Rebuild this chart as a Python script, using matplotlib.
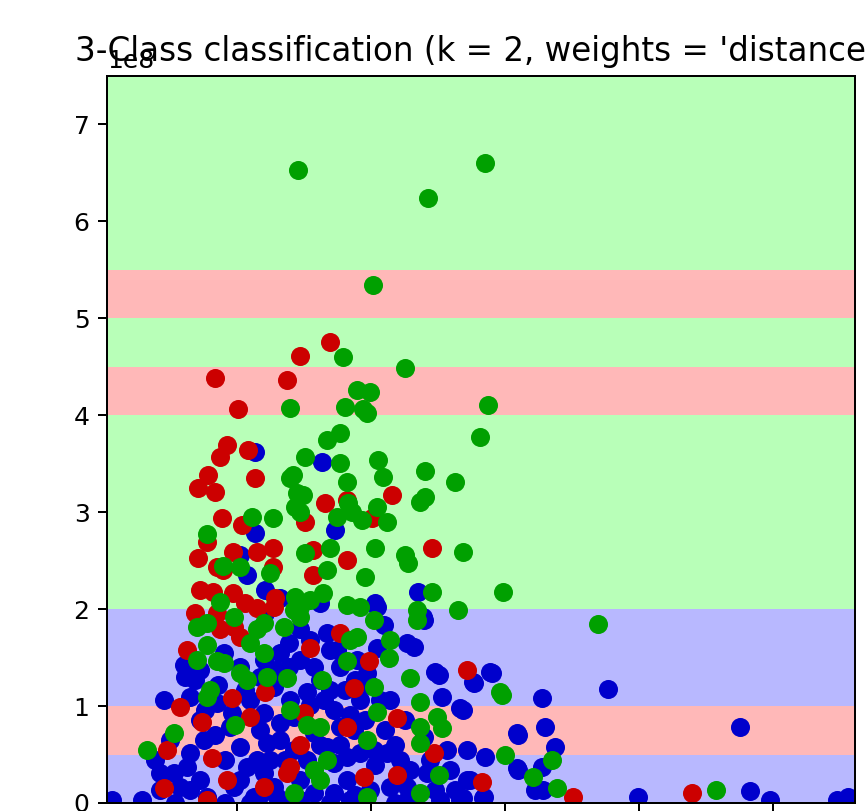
import numpy as np
import matplotlib
matplotlib.use("Agg")
import matplotlib.pyplot as plt
from matplotlib.colors import ListedColormap

# decision regions: horizontal bands (y in units of 1e8), class per band
band_edges = [0.0, 0.5, 1.0, 2.0, 4.0, 4.5, 5.0, 5.5, 7.5]
band_class = [2, 0, 2, 1, 0, 1, 0, 1]   # 0 = red, 1 = green, 2 = blue
x_edges = [0.3, 56.12]

# class 0 (red)
red_x = [16.94, 14.70, 8.36, 13.73, 10.07, 9.25, 8.73, 10.82, 7.84, 7.09, 8.36, 11.34,
         16.57, 18.21, 21.57, 20.07, 15.07, 8.88, 10.37, 24.55, 15.67, 18.21, 15.67, 7.76,
         7.09, 9.70, 11.49, 12.69, 8.51, 8.96, 12.69, 7.24, 8.21, 9.70, 12.84, 10.60,
         11.49, 6.87, 8.51, 8.73, 9.78, 6.27, 10.22, 12.76, 15.45, 17.69, 19.85, 18.73,
         12.09, 9.63, 5.75, 7.39, 10.97, 15.00, 18.21, 14.70, 8.13, 4.78, 13.73, 13.96,
         19.48, 21.94, 21.94, 24.70, 27.16, 28.28, 7.76, 4.55, 9.25, 12.01, 35.07, 43.96]
red_y = [4.76, 4.61, 4.38, 4.36, 4.06, 3.69, 3.57, 3.64, 3.38, 3.25, 3.21, 3.35,
         3.10, 3.13, 3.18, 2.94, 2.90, 2.94, 2.87, 2.63, 2.61, 2.51, 2.35, 2.69,
         2.53, 2.59, 2.59, 2.63, 2.43, 2.40, 2.43, 2.20, 2.18, 2.17, 2.12, 2.06,
         2.01, 1.96, 1.96, 1.79, 1.82, 1.58, 1.71, 2.02, 1.60, 1.75, 1.46, 1.19,
         1.15, 1.08, 0.99, 0.84, 0.89, 0.93, 0.78, 0.60, 0.46, 0.55, 0.31, 0.37,
         0.27, 0.29, 0.88, 0.52, 1.37, 0.22, 0.03, 0.15, 0.24, 0.17, 0.06, 0.10]

# class 1 (green)
green_x = [14.55, 28.51, 24.25, 20.15, 17.91, 22.54, 18.96, 19.93, 28.73, 18.06, 13.96, 19.40,
           19.70, 28.13, 17.69, 16.72, 15.07, 17.69, 20.52, 20.90, 24.03, 26.27, 23.66, 24.03,
           13.96, 14.18, 14.48, 14.93, 14.33, 14.70, 18.21, 18.28, 18.58, 20.45, 21.19, 12.69,
           11.12, 19.33, 17.46, 20.30, 22.54, 22.76, 26.87, 29.85, 24.55, 26.49, 23.43, 18.21,
           19.18, 14.33, 14.70, 16.42, 15.45, 8.73, 7.76, 8.96, 10.22, 12.46, 16.94, 16.72,
           19.55, 15.07, 7.01, 7.76, 9.78, 12.01, 11.49, 13.51, 14.25, 14.70, 20.22, 18.43,
           18.96, 21.42, 21.34, 23.43, 7.76, 8.51, 9.03, 7.01, 10.97, 12.01, 10.22, 10.75,
           12.24, 13.73, 7.99, 7.76, 16.34, 18.21, 20.22, 22.91, 23.66, 20.45, 24.93, 25.30,
           23.66, 23.66, 29.63, 30.00, 19.70, 16.72, 15.75, 16.19, 14.25, 19.70, 23.66, 25.07,
           5.30, 3.28, 9.85, 13.96, 16.19, 15.22, 36.94, 29.78, 33.51, 32.09, 33.88, 45.75]
green_y = [6.53, 6.60, 6.24, 5.34, 4.60, 4.49, 4.26, 4.24, 4.11, 4.09, 4.08, 4.06,
           4.02, 3.78, 3.82, 3.75, 3.57, 3.51, 3.54, 3.36, 3.42, 3.31, 3.11, 3.16,
           3.35, 3.38, 3.20, 3.18, 3.05, 3.00, 3.31, 3.10, 3.00, 3.05, 2.90, 2.94,
           2.95, 2.92, 2.95, 2.63, 2.56, 2.48, 2.59, 2.18, 2.18, 1.99, 1.99, 2.04,
           2.02, 2.13, 2.02, 2.17, 2.09, 2.07, 2.77, 2.44, 2.43, 2.37, 2.63, 2.40,
           2.33, 2.58, 1.82, 1.86, 1.92, 1.86, 1.79, 1.82, 1.99, 1.92, 1.89, 1.68,
           1.71, 1.68, 1.50, 1.89, 1.63, 1.46, 1.44, 1.48, 1.65, 1.55, 1.34, 1.27,
           1.30, 1.29, 1.17, 1.09, 1.27, 1.46, 1.20, 1.29, 1.04, 0.94, 0.89, 0.77,
           0.78, 0.62, 1.14, 0.50, 0.65, 0.44, 0.34, 0.24, 0.10, 0.06, 0.10, 0.29,
           0.72, 0.55, 0.80, 0.96, 0.78, 0.80, 1.85, 1.11, 0.44, 0.27, 0.15, 0.13]

# class 2 (blue)
blue_x = [11.34, 16.34, 17.31, 11.34, 10.22, 10.75, 12.09, 13.21, 16.19, 20.30, 23.51, 23.88,
          12.09, 0.67, 2.91, 4.55, 6.04, 6.12, 6.49, 4.25, 5.30, 6.27, 7.24, 5.75,
          7.76, 9.03, 10.22, 8.51, 9.48, 7.54, 6.49, 10.22, 10.75, 9.78, 11.49, 12.01,
          11.27, 12.76, 12.01, 11.72, 13.21, 13.88, 13.88, 12.76, 13.96, 12.01, 13.21, 14.25,
          15.22, 16.19, 16.49, 17.24, 16.72, 14.70, 15.75, 17.69, 17.46, 18.96, 19.70, 19.18,
          20.67, 21.42, 17.69, 18.73, 16.72, 15.75, 13.21, 12.24, 14.25, 15.22, 17.24, 18.21,
          19.18, 20.22, 21.19, 22.16, 18.21, 17.24, 15.75, 12.99, 21.42, 22.69, 22.69, 20.45,
          20.97, 20.45, 22.69, 23.21, 19.70, 23.96, 24.78, 25.07, 25.30, 26.64, 27.69, 28.88,
          27.61, 30.90, 27.16, 28.51, 30.90, 25.67, 23.96, 24.18, 27.16, 25.15, 26.64, 28.43,
          37.69, 29.03, 32.76, 26.87, 47.54, 32.99, 30.97, 33.73, 32.76, 30.97, 27.39, 32.24,
          32.84, 28.36, 26.87, 39.93, 48.28, 49.78, 54.78, 55.60,
          7.24, 8.36, 9.10, 10.22, 10.97, 11.72, 12.46, 13.58, 14.70, 16.19, 17.69, 18.43,
          19.55, 20.30, 21.04, 21.79, 22.54, 22.91, 14.70, 16.94, 18.43, 19.93, 10.97, 9.10,
          6.49, 5.37, 4.25, 3.88, 5.00, 14.70, 15.45, 16.94, 18.06, 18.81, 19.93, 16.94,
          15.45, 12.84, 10.60, 9.63, 8.58, 7.24, 6.87, 7.61, 11.72, 13.58, 21.79, 18.81,
          23.28, 24.78, 25.90, 26.27, 24.40]
blue_y = [3.62, 3.52, 2.82, 2.79, 2.56, 2.35, 2.20, 2.12, 2.06, 2.06, 2.18, 1.92,
          1.96, 0.03, 0.03, 1.06, 1.42, 1.30, 1.09, 0.31, 0.31, 0.37, 0.24, 0.17,
          0.06, 1.55, 1.40, 1.03, 0.78, 0.65, 0.52, 0.58, 0.37, 0.17, 0.44, 0.31,
          0.06, 0.17, 1.48, 1.30, 1.55, 1.65, 1.40, 1.20, 1.06, 0.93, 0.83, 0.89,
          1.14, 1.27, 1.06, 0.96, 1.75, 1.79, 1.40, 1.40, 1.58, 1.48, 1.34, 1.06,
          1.06, 1.06, 0.78, 0.75, 0.58, 0.72, 0.65, 0.62, 0.55, 0.44, 0.41, 0.47,
          0.52, 0.55, 0.52, 0.44, 0.24, 0.10, 0.10, 0.06, 0.17, 0.17, 0.03, 2.02,
          1.84, 1.60, 1.65, 1.61, 1.44, 1.89, 1.35, 1.32, 1.09, 0.98, 1.24, 1.35,
          1.25, 0.72, 0.55, 0.47, 0.36, 0.55, 0.68, 0.31, 0.24, 0.03, 0.03, 0.06,
          1.18, 1.34, 1.08, 0.96, 0.78, 0.78, 0.70, 0.58, 0.37, 0.34, 0.24, 0.13,
          0.13, 0.05, 0.05, 0.06, 0.12, 0.03, 0.03, 0.06,
          0.86, 0.70, 0.44, 0.24, 1.06, 0.75, 0.44, 0.44, 0.24, 0.60, 0.60, 0.91,
          0.86, 0.39, 0.75, 0.60, 0.86, 0.34, 0.03, 0.00, 0.03, 0.13, 0.00, 0.00,
          0.13, 0.00, 0.13, 0.44, 0.65, 1.48, 1.01, 1.17, 1.17, 1.27, 1.22, 1.58,
          1.68, 1.37, 1.17, 0.93, 1.22, 1.37, 1.27, 0.96, 0.08, 0.00, 0.00, 0.08,
          0.00, 0.13, 0.34, 0.13, 0.44]

cmap_light = ListedColormap(['#FFB8B8', '#B8FFB8', '#B8B8FF'])
col_red = '#CC0000'
col_green = '#00A000'
col_blue = '#0000CC'

fig = plt.figure(figsize=(867 / 180, 811 / 180), dpi=180)
ax = fig.add_axes([107 / 867, 8 / 811, 748 / 867, 727 / 811])

scale = 1e8
Z = np.array(band_class).reshape(-1, 1)
ax.pcolormesh(x_edges, np.array(band_edges) * scale, Z, cmap=cmap_light, vmin=0, vmax=2)

ax.scatter(blue_x, np.array(blue_y) * scale, c=col_blue, s=58, linewidths=0)
ax.scatter(red_x, np.array(red_y) * scale, c=col_red, s=58, linewidths=0)
ax.scatter(green_x, np.array(green_y) * scale, c=col_green, s=58, linewidths=0)

ax.set_xlim(x_edges[0], x_edges[1])
ax.set_ylim(0, 7.5 * scale)
ax.set_xticks([10, 20, 30, 40, 50])
# x tick labels fall below the visible canvas in the reference
ax.tick_params(axis='x', labelbottom=False)
ax.set_yticks(np.arange(0, 8) * scale)
# fixed y keeps the title just above the axes (it overlaps the 1e8 offset text)
ax.set_title("3-Class classification (k = 2, weights = 'distance')", fontsize=13, y=1.0)

fig.savefig("out.png", dpi=180)
